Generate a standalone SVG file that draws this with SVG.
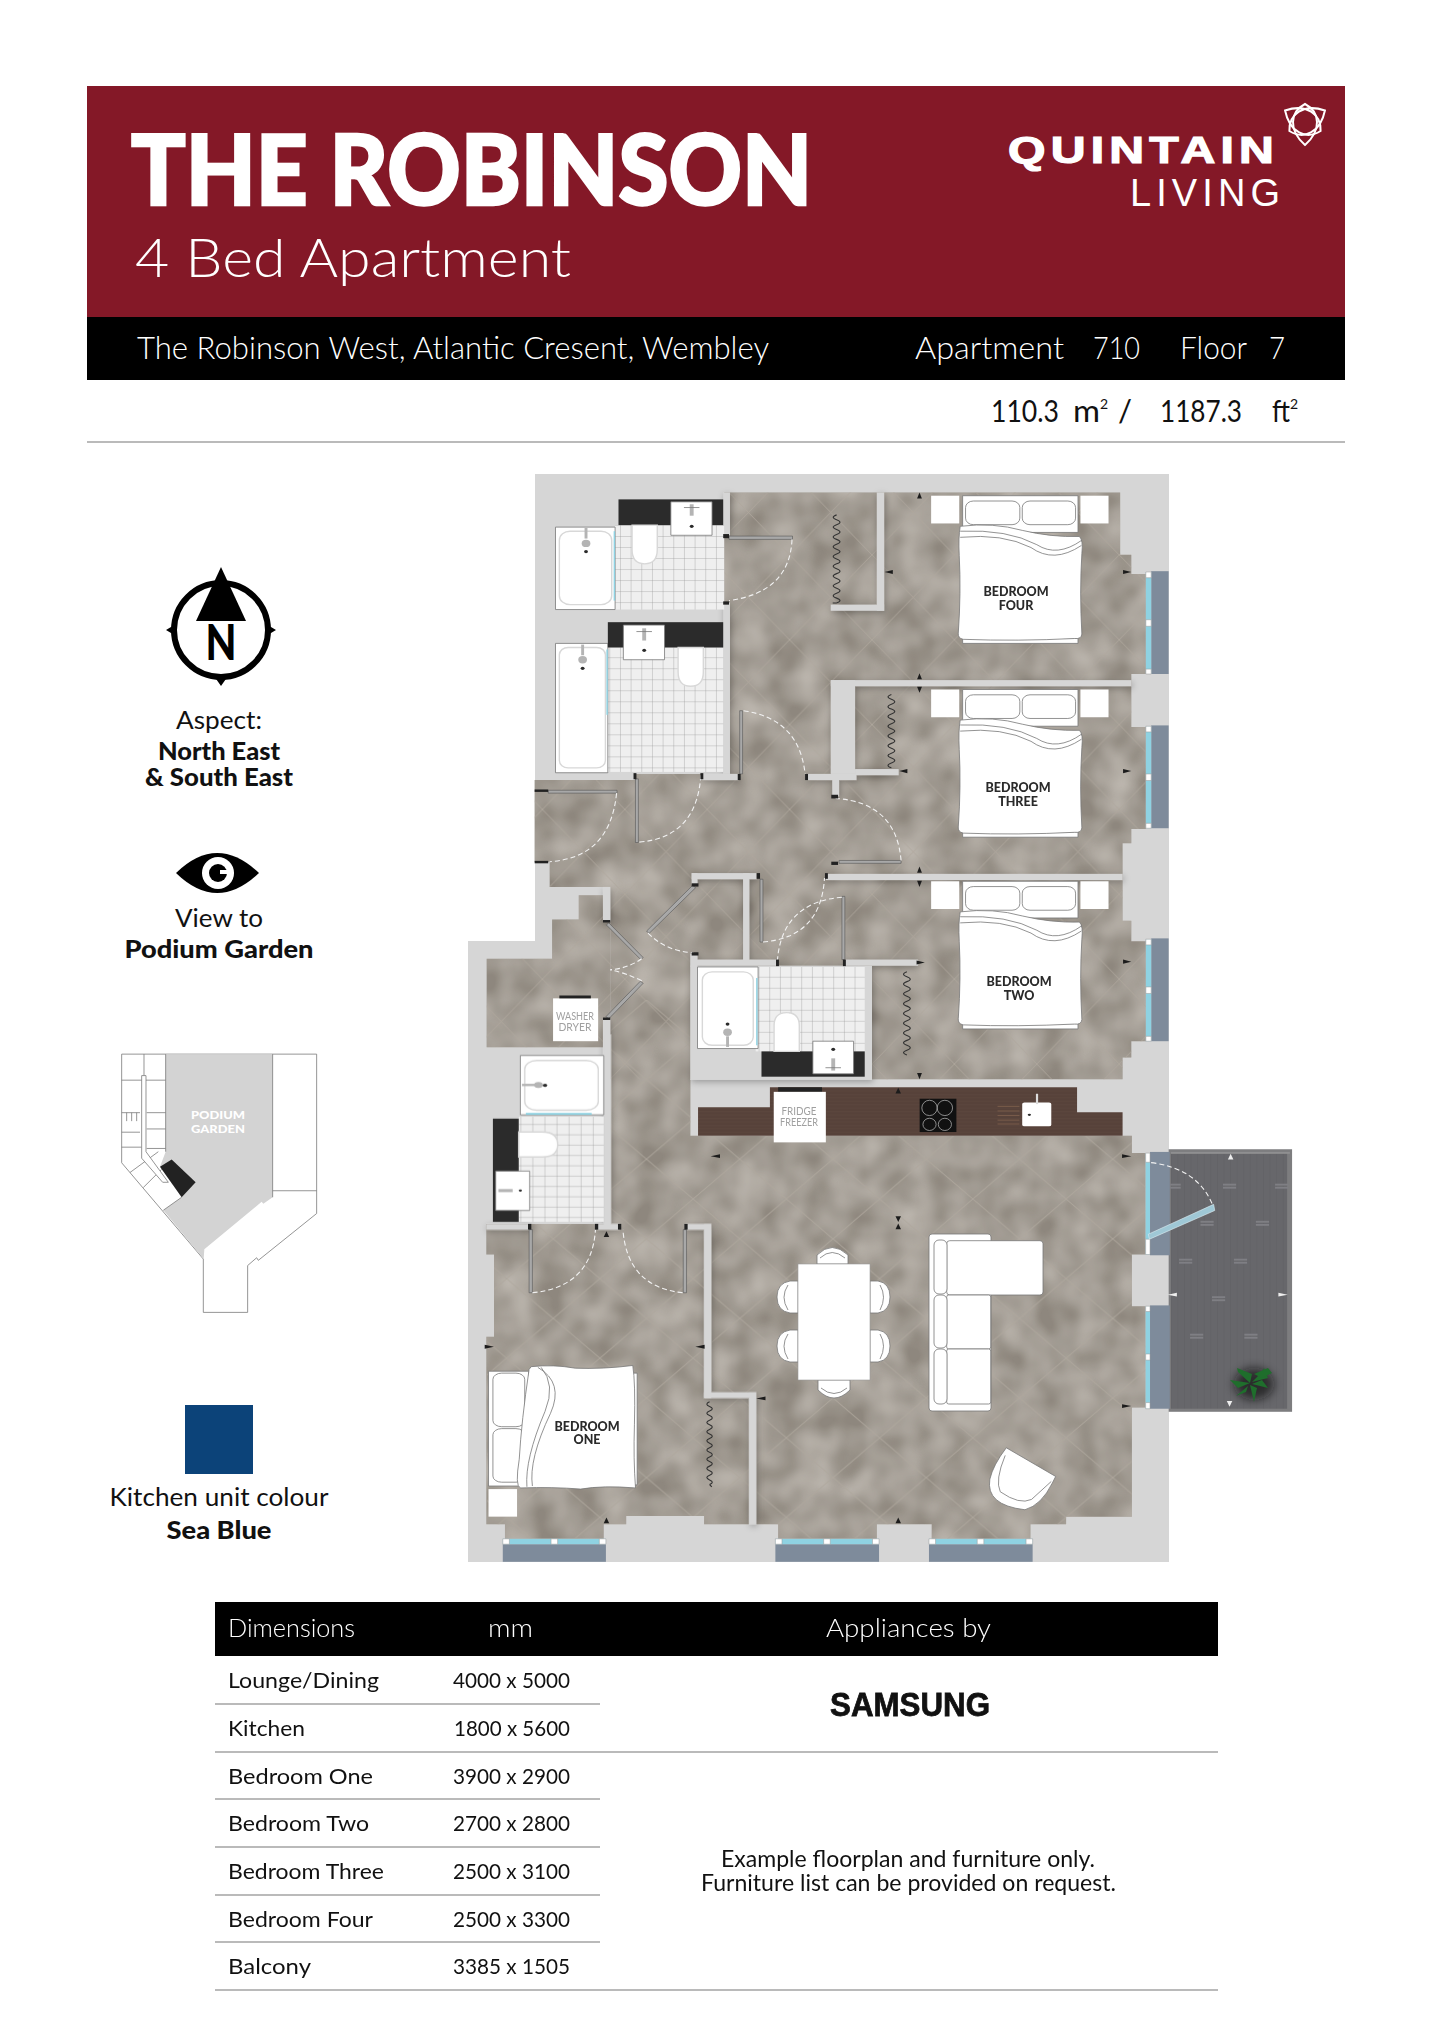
<svg xmlns="http://www.w3.org/2000/svg" xmlns:xlink="http://www.w3.org/1999/xlink" width="1432" height="2025" viewBox="0 0 1432 2025">
<style>
text{font-family:Lato,"Liberation Sans",sans-serif;fill:#111;font-weight:300}
.w{fill:#fff}.b{font-weight:900}
.r{font-size:22px}
.r text,.n{font-weight:400}
.c{text-anchor:middle}
.wall{fill:#d6d6d6}
.tile{fill:url(#grid)}
.wh{fill:#fff;stroke:#777;stroke-width:.8;vector-effect:non-scaling-stroke}
.wl{fill:#fff;stroke:#d8d8d8;stroke-width:1.4;vector-effect:non-scaling-stroke}
.ln{fill:none;stroke:#777;stroke-width:.8;vector-effect:non-scaling-stroke}
.blk{fill:#2b2b2b}
.chr{fill:#b4b4b4}
.stop{fill:#222}
.leaf{fill:#a8a8a8;stroke:#555;stroke-width:.6;vector-effect:non-scaling-stroke}
.arc{fill:none;stroke:#f2f2f2;stroke-width:1.1;stroke-dasharray:5 3;vector-effect:non-scaling-stroke}
.wave{fill:none;stroke:#333;stroke-width:1.1;vector-effect:non-scaling-stroke}
.fr{fill:#7e8b9b}
.gl{fill:#8fd2e2}
.mul{fill:#fff;stroke:#999;stroke-width:.5;vector-effect:non-scaling-stroke}
.lab{font-weight:900;font-size:12.5px;fill:#2a2a2a;text-anchor:middle}
.app{font-size:11.5px;fill:#a0a0a0;text-anchor:middle;font-weight:400}
.hl{stroke:#a3a3a3;stroke-width:1.5}
.kp{fill:#fff;stroke:#7a7a7a;stroke-width:.8;vector-effect:non-scaling-stroke}
.kl{fill:none;stroke:#7a7a7a;stroke-width:.8;vector-effect:non-scaling-stroke}
.tk{fill:#1c1c1c}
.wt{fill:#eee}
.mk{fill:#7f7f84}
</style>
<defs>
<pattern id="dia" patternUnits="userSpaceOnUse" width="170" height="208">
<path d="M0 0L170 208M170 0L0 208" stroke="#aea79d" stroke-width="2" fill="none"/>
</pattern>
<pattern id="grid" patternUnits="userSpaceOnUse" width="22" height="27">
<rect width="22" height="27" fill="#efefef"/>
<path d="M0 0H22M0 0V27" stroke="#989898" stroke-width="1.6" fill="none"/>
</pattern>
<pattern id="deck" patternUnits="userSpaceOnUse" width="12" height="100">
<rect width="12" height="100" fill="#67676b"/>
<path d="M0 0V100" stroke="#5c5c60" stroke-width="1.5"/>
</pattern>
<pattern id="wood" patternUnits="userSpaceOnUse" width="100" height="9">
<rect width="100" height="9" fill="#57423a"/>
<path d="M0 4H100" stroke="#614b40" stroke-width="1"/>
</pattern>
<filter id="mott" x="0" y="0" width="1" height="1">
<feTurbulence type="fractalNoise" baseFrequency=".03" numOctaves="2" seed="4"/>
<feColorMatrix values="0 0 0 0 .66 0 0 0 0 .62 0 0 0 0 .57 .9 0 0 0 -.2"/>
<feComposite in2="SourceAlpha" operator="in" result="n"/>
<feMerge><feMergeNode in="SourceGraphic"/><feMergeNode in="n"/></feMerge>
</filter>
<filter id="sh" x="-5%" y="-5%" width="110%" height="110%"><feDropShadow dx="1" dy="2" stdDeviation="3" flood-color="#000" flood-opacity=".28"/></filter>
<filter id="bl" x="-40%" y="-40%" width="180%" height="180%"><feGaussianBlur stdDeviation="5"/></filter>
<g id="bed">
<rect x="972" y="63" width="58" height="68" fill="#fff"/>
<rect x="1280" y="63" width="58" height="68" fill="#fff"/>
<rect class="wh" x="1037" y="63" width="238" height="90"/>
<rect class="wh" x="1043" y="76" width="112" height="58" rx="16"/>
<rect class="wh" x="1160" y="76" width="110" height="58" rx="16"/>
<rect class="wh" x="1037" y="412" width="238" height="13"/>
<path class="wh" d="M1032 138Q1100 128 1160 148Q1220 165 1278 163Q1286 172 1283 205Q1278 300 1283 402Q1282 415 1268 413Q1150 420 1038 415Q1027 412 1028 400Q1034 300 1030 210Q1028 165 1032 138Z"/>
<path class="ln" d="M1032 165Q1120 155 1178 190Q1225 230 1282 185M1032 150Q1130 145 1190 183Q1232 215 1283 172"/>
</g>
<path id="tu" d="M-5 7L0-8L5 7Z"/>
<path id="tr" d="M-10 5L7 0L-10-5Z"/>
<path id="tl" d="M10 5L-7 0L10-5Z"/>
<path id="td" d="M-5-7L0 8L5-7Z"/>
<g id="mk2"><rect x="-12" y="-8" width="24" height="5"/><rect x="-12" y="0" width="24" height="5"/></g>
<path id="petal" d="M1305 145C1288 130 1290 112 1305 104C1320 112 1322 130 1305 145Z"/>
</defs>
<rect width="1432" height="2025" fill="#fff"/>

<g id="header">
<rect x="87" y="86" width="1258" height="231" fill="#841827"/>
<rect x="87" y="317" width="1258" height="63" fill="#000"/>
<text class="w b" x="131" y="205" font-size="98" textLength="681" lengthAdjust="spacingAndGlyphs" stroke="#fff" stroke-width="2.5">THE ROBINSON</text>
<text class="w" x="135" y="276.5" font-size="54" textLength="436" lengthAdjust="spacingAndGlyphs">4 Bed Apartment</text>
<text class="w" x="137" y="359" font-size="31" textLength="632" lengthAdjust="spacingAndGlyphs">The Robinson West, Atlantic Cresent, Wembley</text>
<text class="w" x="915" y="359" font-size="31" textLength="149" lengthAdjust="spacingAndGlyphs">Apartment</text>
<text class="w" x="1093" y="359" font-size="31" textLength="47" lengthAdjust="spacingAndGlyphs">710</text>
<text class="w" x="1180" y="359" font-size="31" textLength="67" lengthAdjust="spacingAndGlyphs">Floor</text>
<text class="w" x="1269" y="359" font-size="31" textLength="16" lengthAdjust="spacingAndGlyphs">7</text>
</g>
<g id="logo">
<text class="w" x="1008" y="163" font-size="37" textLength="271" lengthAdjust="spacingAndGlyphs" stroke="#fff" stroke-width="1.2" style="font-family:'Liberation Sans',sans-serif;font-weight:700;letter-spacing:4px">QUINTAIN</text>
<text class="w" x="1130" y="205.5" font-size="38" textLength="150" lengthAdjust="spacing" style="font-family:'Liberation Sans',sans-serif;font-weight:400">LIVING</text>
<g fill="none" stroke="#fff" stroke-width="2"><use xlink:href="#petal"/><use xlink:href="#petal" transform="rotate(120 1305 122)"/><use xlink:href="#petal" transform="rotate(-120 1305 122)"/></g>
</g>
<g id="area">
<text class="n" x="991" y="422" font-size="31" textLength="68" lengthAdjust="spacingAndGlyphs">110.3</text>
<text class="n" x="1073" y="422" font-size="31" textLength="27" lengthAdjust="spacingAndGlyphs">m</text>
<text class="n" x="1100" y="409" font-size="14">2</text>
<text class="n" x="1118" y="422" font-size="31">/</text>
<text class="n" x="1160" y="422" font-size="31" textLength="82" lengthAdjust="spacingAndGlyphs">1187.3</text>
<text class="n" x="1272" y="422" font-size="31" textLength="18" lengthAdjust="spacingAndGlyphs">ft</text>
<text class="n" x="1290" y="409" font-size="14">2</text>
<line x1="87" y1="442" x2="1345" y2="442" class="hl"/>
</g>

<g id="aspect">
<circle cx="221" cy="630" r="47" fill="none" stroke="#000" stroke-width="6"/>
<path d="M221 567L246 621H196Z" fill="#000"/>
<path d="M166 630L176 624V636ZM276 630L266 624V636ZM221 686L214 676H228Z" fill="#000"/>
<text class="b c" x="221" y="660" font-size="50" textLength="31" lengthAdjust="spacingAndGlyphs" style="fill:#000">N</text>
<text class="c n" x="219" y="729" font-size="25" textLength="86" lengthAdjust="spacingAndGlyphs">Aspect:</text>
<text class="b c" x="219" y="760" font-size="25" textLength="122" lengthAdjust="spacingAndGlyphs">North East</text>
<text class="b c" x="219" y="786" font-size="25" textLength="148" lengthAdjust="spacingAndGlyphs">&amp; South East</text>
</g>
<g id="view">
<path d="M176 873Q217 833 259 873Q217 913 176 873Z" fill="#000"/>
<circle cx="218" cy="873" r="16" fill="#fff"/>
<circle cx="218" cy="873" r="9" fill="#000"/>
<rect x="220" y="870" width="7" height="4" fill="#fff"/>
<text class="c n" x="219" y="927" font-size="25" textLength="88" lengthAdjust="spacingAndGlyphs">View to</text>
<text class="b c" x="219" y="958" font-size="25" textLength="189" lengthAdjust="spacingAndGlyphs">Podium Garden</text>
</g>
<g id="keyplan">
<g transform="translate(90 550) scale(.3333 .6505)">
<path class="kp" d="M95 775H680V1020L505 1092L500 1088L473 1100V1172H340V1090L95 942Z"/>
<path d="M227 775H548V995L520 1005L515 1002L343 1075L341 1090L220 1015L275 995L210 948L227 925Z" fill="#d3d3d3"/>
<path d="M210 948L245 937L317 972L275 995Z" fill="#222"/>
<path class="kl" d="M95 815H227M95 865H150M170 865H227M95 895H150M170 890H227M95 918H155M170 920H227M227 775V925M162 775V810M548 775V995M548 985H680M120 957L205 925M160 980L215 952M220 1015L275 995M110 865V878M125 865V878M140 865V878"/>
<path d="M155 808H168V925L235 972L218 972L155 935Z" fill="#fff" stroke="#7a7a7a" stroke-width=".8" vector-effect="non-scaling-stroke"/>
</g>
<text class="w b c" x="218" y="1119" font-size="11.5" textLength="54" lengthAdjust="spacingAndGlyphs">PODIUM</text>
<text class="w b c" x="218" y="1133" font-size="11.5" textLength="54" lengthAdjust="spacingAndGlyphs">GARDEN</text>
</g>
<g id="swatch">
<rect x="185" y="1405" width="68" height="69" fill="#0c4379"/>
<text class="c n" x="219" y="1506" font-size="25" textLength="219" lengthAdjust="spacingAndGlyphs">Kitchen unit colour</text>
<text class="b c" x="219" y="1539" font-size="25" textLength="105" lengthAdjust="spacingAndGlyphs">Sea Blue</text>
</g>

<g id="plan">
<path id="shell" class="wall" d="M535 474H1169V1562H468V941H535Z"/>
<g id="floors" filter="url(#mott)">
<g transform="translate(460 470) scale(.4847 .408)">
<path fill="#8e877e" d="M545 55H1362V208H1385V255H1415V500H1385V630H1415V880H1385V915H1367V1105H1385V1155H1415V1400H1385V1440H1367V1493H310V1022H185V960H154V760H362V745H497V760H545Z"/>
<path fill="#8e877e" d="M55 1198H190V1102H245V1042H295V1102H310V1415H55Z"/>
</g>
<g transform="translate(460 1000) scale(.5485 .3827)">
<path fill="#8e877e" d="M275 0H420V355H1225V400H1250V665H1225V800H1250V1065H1225V1350H1105V1370H1040V1408H860V1370H760V1408H580V1370H540V1040H458V600H445V1040H527V1370H445V1348H303V1370H262V1408H82V1370H48V880H62V665H48V585H275Z"/>
</g>
</g>
<g id="floor-lines">
<g transform="translate(460 470) scale(.4847 .408)">
<path fill="url(#dia)" d="M545 55H1362V208H1385V255H1415V500H1385V630H1415V880H1385V915H1367V1105H1385V1155H1415V1400H1385V1440H1367V1493H310V1022H185V960H154V760H362V745H497V760H545Z"/>
<path fill="url(#dia)" d="M55 1198H190V1102H245V1042H295V1102H310V1415H55Z"/>
</g>
<g transform="translate(460 1000) scale(.5485 .3827)">
<path fill="url(#dia)" d="M275 0H420V355H1225V400H1250V665H1225V800H1250V1065H1225V1350H1105V1370H1040V1408H860V1370H760V1408H580V1370H540V1040H458V600H445V1040H527V1370H445V1348H303V1370H262V1408H82V1370H48V880H62V665H48V585H275Z"/>
</g>
</g>

<g id="walls" filter="url(#sh)">
<g class="wall" transform="translate(460 470) scale(.4847 .408)">
<rect x="860" y="55" width="15" height="290"/>
<rect x="765" y="330" width="110" height="15"/>
<rect x="765" y="515" width="620" height="15"/>
<rect x="765" y="515" width="50" height="230"/>
<rect x="815" y="733" width="90" height="15"/>
<rect x="718" y="745" width="100" height="15"/>
<rect x="768" y="745" width="14" height="55"/>
<rect x="755" y="990" width="612" height="15"/>
<rect x="478" y="988" width="134" height="15"/>
<rect x="478" y="988" width="12" height="28"/>
<rect x="584" y="988" width="13" height="215"/>
<rect x="475" y="1215" width="375" height="280"/>
<rect x="475" y="1185" width="15" height="32"/>
<rect x="795" y="1200" width="150" height="15"/>
<rect x="478" y="1200" width="178" height="15"/>
<rect x="500" y="745" width="75" height="15"/>
<rect x="543" y="55" width="14" height="105"/>
<rect x="543" y="325" width="14" height="420"/>
<rect x="295" y="1022" width="15" height="84"/>
<rect x="295" y="1345" width="15" height="150"/>
</g>
<g class="wall" transform="translate(460 1000) scale(.5485 .3827)">
<rect x="262" y="90" width="13" height="500"/>
<rect x="48" y="585" width="80" height="15"/>
<rect x="250" y="585" width="40" height="15"/>
<rect x="410" y="585" width="48" height="15"/>
<rect x="445" y="585" width="13" height="455"/>
<rect x="445" y="1025" width="95" height="15"/>
<rect x="527" y="1025" width="13" height="345"/>
</g>
</g>

<g id="baths" transform="translate(460 470) scale(.4847 .408)">
<rect class="tile" x="320" y="135" width="225" height="207"/>
<rect class="wh" x="197" y="140" width="123" height="202"/>
<rect class="wl" x="205" y="150" width="108" height="180" rx="22"/>
<rect class="gl" x="317" y="150" width="3" height="170"/>
<rect class="chr" x="257" y="142" width="6" height="26"/><circle class="chr" cx="260" cy="180" r="9"/><circle class="blk" cx="260" cy="200" r="4"/>
<rect class="blk" x="327" y="72" width="216" height="63"/>
<rect class="wh" x="435" y="78" width="85" height="82"/>
<rect class="chr" x="474" y="84" width="8" height="28"/><path class="ln" d="M462 92H494"/><circle class="blk" cx="478" cy="138" r="4"/>
<path class="wl" d="M355 135H407V195Q407 230 381 230Q355 230 355 195Z"/>

<rect class="tile" x="305" y="435" width="238" height="305"/>
<rect class="wh" x="197" y="425" width="108" height="317"/>
<rect class="wl" x="205" y="435" width="95" height="295" rx="18"/>
<rect class="gl" x="302" y="440" width="3" height="160"/>
<rect class="chr" x="250" y="428" width="6" height="26"/><circle class="chr" cx="253" cy="465" r="9"/><circle class="blk" cx="253" cy="486" r="4"/>
<rect class="blk" x="305" y="373" width="238" height="62"/>
<rect class="wh" x="337" y="380" width="85" height="85"/>
<rect class="chr" x="376" y="388" width="8" height="30"/><path class="ln" d="M364 396H396"/><circle class="blk" cx="380" cy="442" r="4"/>
<path class="wl" d="M450 435H502V495Q502 530 476 530Q450 530 450 495Z"/>

<rect class="tile" x="610" y="1218" width="225" height="207"/>
<rect class="wh" x="490" y="1218" width="125" height="200"/>
<rect class="wl" x="500" y="1230" width="105" height="180" rx="20"/>
<rect class="gl" x="611" y="1245" width="3" height="165"/>
<rect class="chr" x="549" y="1388" width="6" height="26"/><circle class="chr" cx="552" cy="1378" r="9"/><circle class="blk" cx="552" cy="1358" r="4"/>
<rect class="blk" x="622" y="1425" width="213" height="62"/>
<rect class="wh" x="728" y="1400" width="84" height="80"/>
<rect class="chr" x="766" y="1442" width="8" height="30"/><path class="ln" d="M754 1465H786"/><circle class="blk" cx="770" cy="1420" r="4"/>
<path class="wl" d="M648 1425H700V1362Q700 1330 674 1330Q648 1330 648 1362Z"/>
<rect x="192" y="1295" width="93" height="105" fill="#fff"/>
<rect class="stop" x="205" y="1288" width="65" height="7"/>
</g>
<g id="bath4" transform="translate(460 1000) scale(.5485 .3827)">
<rect class="tile" x="107" y="305" width="155" height="275"/>
<rect class="wh" x="110" y="145" width="152" height="155"/>
<rect class="wl" x="118" y="158" width="134" height="130" rx="22"/>
<rect class="gl" x="120" y="295" width="120" height="5"/>
<rect class="chr" x="113" y="219" width="24" height="6"/><circle class="chr" cx="143" cy="222" r="8"/><circle class="blk" cx="155" cy="223" r="4"/>
<rect class="blk" x="60" y="310" width="47" height="270"/>
<rect class="wh" x="65" y="447" width="62" height="103"/>
<rect class="chr" x="70" y="494" width="26" height="8"/><circle class="blk" cx="110" cy="498" r="3"/>
<path class="wl" d="M107 345H150Q178 345 178 378Q178 410 150 410H107Z"/>
</g>
<g id="kitchen" transform="translate(460 1000) scale(.5485 .3827)">
<path fill="url(#wood)" d="M565 228H1125V293H1208V355H434V280H565Z"/>
<rect class="stop" x="580" y="228" width="80" height="12"/>
<rect x="572" y="240" width="95" height="132" fill="#fff"/>
<rect x="838" y="258" width="67" height="87" fill="#111"/>
<ellipse class="ln" cx="856" cy="282" rx="14" ry="20" style="stroke:#aaa"/><ellipse class="ln" cx="884" cy="282" rx="14" ry="20" style="stroke:#aaa"/><ellipse class="ln" cx="856" cy="325" rx="12" ry="16" style="stroke:#aaa"/><ellipse class="ln" cx="884" cy="325" rx="12" ry="16" style="stroke:#aaa"/>
<path d="M980 278H1020M980 290H1020M980 302H1020M980 314H1020M980 324H1020" stroke="#a07a5c" stroke-width="1" fill="none"/>
<rect x="1025" y="268" width="53" height="62" rx="4" fill="#fff"/>
<path d="M1052 245V272" stroke="#ddd" stroke-width="4"/>
<circle class="blk" cx="1038" cy="300" r="3"/>
</g>
<g id="windows">
<g transform="translate(460 470) scale(.4847 .408)">
<rect class="fr" x="1426" y="248" width="36" height="252"/><rect class="gl" x="1415" y="250" width="11" height="250"/>
<rect class="mul" x="1415" y="250" width="11" height="14"/><rect class="mul" x="1415" y="367" width="11" height="16"/><rect class="mul" x="1415" y="488" width="11" height="12"/>
<rect class="fr" x="1426" y="626" width="36" height="252"/><rect class="gl" x="1415" y="628" width="11" height="250"/>
<rect class="mul" x="1415" y="628" width="11" height="14"/><rect class="mul" x="1415" y="745" width="11" height="16"/><rect class="mul" x="1415" y="866" width="11" height="12"/>
<rect class="fr" x="1426" y="1148" width="36" height="252"/><rect class="gl" x="1415" y="1150" width="11" height="250"/>
<rect class="mul" x="1415" y="1150" width="11" height="14"/><rect class="mul" x="1415" y="1267" width="11" height="16"/><rect class="mul" x="1415" y="1388" width="11" height="12"/>
</g>
<g transform="translate(460 1000) scale(.5485 .3827)">
<rect class="fr" x="78" y="1422" width="188" height="46"/><rect class="gl" x="78" y="1408" width="188" height="14"/><rect class="mul" x="78" y="1408" width="12" height="14"/><rect class="mul" x="166" y="1408" width="12" height="14"/><rect class="mul" x="254" y="1408" width="12" height="14"/>
<rect class="fr" x="575" y="1422" width="189" height="46"/><rect class="gl" x="575" y="1408" width="189" height="14"/><rect class="mul" x="575" y="1408" width="12" height="14"/><rect class="mul" x="663" y="1408" width="12" height="14"/><rect class="mul" x="752" y="1408" width="12" height="14"/>
<rect class="fr" x="855" y="1422" width="189" height="46"/><rect class="gl" x="855" y="1408" width="189" height="14"/><rect class="mul" x="855" y="1408" width="12" height="14"/><rect class="mul" x="943" y="1408" width="12" height="14"/><rect class="mul" x="1032" y="1408" width="12" height="14"/>
</g>
</g>
<g id="balcony" transform="translate(460 1000) scale(.5485 .3827)">
<rect x="1292" y="390" width="225" height="686" fill="#7d7d7f"/>
<rect x="1296" y="400" width="212" height="668" fill="url(#deck)"/>
<rect x="1296" y="397" width="217" height="5" fill="#8f8f91"/>
<g class="mk">
<use xlink:href="#mk2" x="1302" y="488"/><use xlink:href="#mk2" x="1403" y="488"/><use xlink:href="#mk2" x="1498" y="488"/><use xlink:href="#mk2" x="1362" y="585"/><use xlink:href="#mk2" x="1463" y="585"/><use xlink:href="#mk2" x="1323" y="684"/><use xlink:href="#mk2" x="1423" y="684"/><use xlink:href="#mk2" x="1383" y="782"/><use xlink:href="#mk2" x="1343" y="880"/><use xlink:href="#mk2" x="1442" y="880"/>
</g>
<rect class="fr" x="1258" y="397" width="36" height="270"/><rect class="gl" x="1250" y="400" width="8" height="265"/><rect class="mul" x="1250" y="400" width="8" height="24"/><rect class="mul" x="1250" y="625" width="8" height="40"/>
<rect class="fr" x="1258" y="798" width="36" height="270"/><rect class="gl" x="1250" y="800" width="8" height="268"/><rect class="mul" x="1250" y="800" width="8" height="14"/><rect class="mul" x="1250" y="925" width="8" height="16"/><rect class="mul" x="1250" y="1052" width="8" height="16"/>
<path d="M1255 612L1374 534L1376 550L1257 625Z" fill="#9fc8d6" stroke="#dfeef3" stroke-width=".6" vector-effect="non-scaling-stroke"/>
<path class="arc" d="M1260 425Q1345 440 1372 535"/>
<g class="wt"><use xlink:href="#tu" x="1405" y="410"/><use xlink:href="#tl" x="1297" y="770"/><use xlink:href="#tr" x="1502" y="770"/><use xlink:href="#td" x="1403" y="1055"/></g>
</g>
<g id="plant">
<ellipse cx="1254" cy="1384" rx="20" ry="16" fill="#111" opacity=".65" filter="url(#bl)"/>
<g fill="#1f6e2c"><path d="M1250 1383L1230 1380L1238 1388Z"/><path d="M1250 1383L1238 1372L1237 1368L1252 1374Z"/><path d="M1248 1386L1236 1396L1246 1392Z"/><path d="M1250 1385L1254 1402L1257 1388Z"/><path d="M1252 1382L1262 1372L1264 1368L1268 1378Z"/><path d="M1252 1384L1268 1388L1262 1380Z"/><path d="M1254 1374L1268 1368L1272 1373L1262 1378Z"/></g>
</g>
<g id="bedrooms">
<g transform="translate(460 470) scale(.4847 .408)">
<use xlink:href="#bed"/>
<use xlink:href="#bed" y="475"/>
<use xlink:href="#bed" y="945"/>
<path class="wave" d="M777 110q-14 6 0 12q14 6 0 12q-14 6 0 12q14 6 0 12q-14 6 0 12q14 6 0 12q-14 6 0 12q14 6 0 12q-14 6 0 12q14 6 0 12q-14 6 0 12q14 6 0 12q-14 6 0 12q14 6 0 12q-14 6 0 12q14 6 0 12q-14 6 0 12q14 6 0 12M777 326h-8"/>
<path class="wave" d="M890 550q-14 6 0 12q14 6 0 12q-14 6 0 12q14 6 0 12q-14 6 0 12q14 6 0 12q-14 6 0 12q14 6 0 12q-14 6 0 12q14 6 0 12q-14 6 0 12q14 6 0 12q-14 6 0 12q14 6 0 12q-14 6 0 12"/>
<path class="wave" d="M922 1230q-14 6 0 12q14 6 0 12q-14 6 0 12q14 6 0 12q-14 6 0 12q14 6 0 12q-14 6 0 12q14 6 0 12q-14 6 0 12q14 6 0 12q-14 6 0 12q14 6 0 12q-14 6 0 12q14 6 0 12q-14 6 0 12q14 6 0 12q-14 6 0 12"/>
</g>
<g id="bed1" transform="translate(460 1000) scale(.5485 .3827)">
<rect class="wh" x="52" y="970" width="73" height="300"/>
<rect class="wh" x="60" y="975" width="58" height="140" rx="16"/>
<rect class="wh" x="60" y="1120" width="58" height="140" rx="16"/>
<rect class="wh" x="312" y="975" width="11" height="292"/>
<path class="wh" d="M130 958Q170 952 210 962Q260 965 315 955Q320 1000 318 1110Q316 1200 320 1275Q260 1268 220 1278Q170 1272 110 1275Q100 1270 108 1200Q112 1100 126 965Z"/>
<path class="ln" d="M142 960Q190 1000 165 1080Q125 1200 132 1270M148 960Q175 1005 155 1075Q118 1200 122 1272"/>
<rect x="52" y="1278" width="52" height="72" fill="#fff"/>
<path class="wave" d="M455 1050q-10 6 0 12q10 6 0 12q-10 6 0 12q10 6 0 12q-10 6 0 12q10 6 0 12q-10 6 0 12q10 6 0 12q-10 6 0 12q10 6 0 12q-10 6 0 12q10 6 0 12q-10 6 0 12q10 6 0 12q-10 6 0 12q10 6 0 12q-10 6 0 12q10 6 0 12M455 1266l4 6"/>
</g>
</g>
<g id="dining">
<path class="wh" d="M817 1264V1255Q832 1240 848 1255V1264Z"/><path class="ln" d="M820 1258Q832 1247 845 1258"/>
<path class="wh" d="M818 1380V1390Q834 1406 850 1390V1380Z"/><path class="ln" d="M821 1388Q834 1399 847 1388"/>
<path class="wh" d="M798 1281H790Q777 1283 777 1297Q777 1311 790 1313H798Z"/><path class="ln" d="M788 1285Q780 1297 788 1310"/>
<path class="wh" d="M798 1330H790Q777 1332 777 1346Q777 1360 790 1362H798Z"/><path class="ln" d="M788 1334Q780 1346 788 1359"/>
<path class="wh" d="M870 1281H878Q890 1283 890 1297Q890 1311 878 1313H870Z"/><path class="ln" d="M880 1285Q887 1297 880 1310"/>
<path class="wh" d="M870 1330H878Q890 1332 890 1346Q890 1360 878 1362H870Z"/><path class="ln" d="M880 1334Q887 1346 880 1359"/>
<rect x="798" y="1264" width="72" height="116" fill="#fff" stroke="#999" stroke-width=".6"/>
</g>
<g id="sofa">
<rect class="wh" x="929" y="1234" width="62" height="177" rx="3"/>
<rect class="wh" x="946.7" y="1240.7" width="96.3" height="54.3" rx="3"/>
<rect class="wh" x="946.7" y="1295" width="44" height="54" rx="2"/>
<rect class="wh" x="946.7" y="1349" width="44" height="55" rx="2"/>
<rect class="wh" x="934" y="1240" width="13" height="54" rx="5"/>
<rect class="wh" x="934" y="1295" width="13" height="53" rx="5"/>
<rect class="wh" x="934" y="1349" width="13" height="55" rx="5"/>
</g>
<g id="armchair" transform="translate(460 1000) scale(.5485 .3827)">
<path class="wh" d="M996 1170L1086 1245L1080 1262Q1060 1320 1030 1332Q958 1320 966 1252Q972 1215 996 1170Z"/>
<path class="ln" d="M994 1190Q975 1255 985 1285Q1020 1320 1042 1305L1078 1258"/>
</g>
<g id="doors">
<g transform="translate(460 470) scale(.4847 .408)">
<rect class="leaf" x="555" y="162" width="131" height="8"/><path class="arc" d="M685 170Q680 300 555 320"/>
<rect class="leaf" x="577" y="590" width="6" height="155"/><path class="arc" d="M585 590Q700 610 712 745"/>
<rect class="leaf" x="362" y="757" width="6" height="156"/><path class="arc" d="M370 912Q490 900 497 745"/>
<rect class="leaf" x="182" y="785" width="142" height="7"/><path class="arc" d="M323 792Q310 950 185 960"/>
<rect class="leaf" x="782" y="957" width="128" height="7"/><path class="arc" d="M910 957Q900 815 775 805"/>
<rect class="leaf" x="619" y="1003" width="6" height="154"/><path class="arc" d="M625 1157Q745 1145 752 1000"/>
<rect class="leaf" x="788" y="1045" width="6" height="155"/><path class="arc" d="M788 1047Q665 1060 655 1200"/>
<path class="leaf" d="M480 1018L486 1024L390 1136L385 1130Z"/><path class="arc" d="M388 1135Q425 1180 482 1183"/>
<path class="leaf" d="M307 1110L302 1115L373 1200L378 1195Z"/><path class="arc" d="M375 1198Q345 1222 310 1225"/>
<path class="leaf" d="M372 1253L378 1258L307 1345L301 1340Z"/><path class="arc" d="M375 1252Q340 1232 310 1225"/>
<g class="stop">
<rect x="543" y="157" width="12" height="10"/><rect x="543" y="322" width="12" height="8"/><rect x="358" y="743" width="6" height="15"/><rect x="496" y="743" width="6" height="15"/><rect x="573" y="745" width="6" height="15"/><rect x="712" y="745" width="6" height="15"/><rect x="154" y="783" width="28" height="6"/><rect x="154" y="958" width="28" height="6"/><rect x="766" y="796" width="14" height="9"/><rect x="766" y="960" width="14" height="8"/><rect x="753" y="988" width="6" height="14"/><rect x="612" y="988" width="7" height="14"/><rect x="652" y="1200" width="6" height="16"/><rect x="790" y="1200" width="6" height="16"/><rect x="478" y="1013" width="14" height="8"/><rect x="478" y="1182" width="14" height="8"/><rect x="295" y="1103" width="15" height="6"/><rect x="295" y="1342" width="15" height="6"/>
</g>
</g>
<g transform="translate(460 1000) scale(.5485 .3827)">
<rect class="leaf" x="126" y="600" width="6" height="165"/><path class="arc" d="M132 765Q240 750 247 600"/>
<rect class="leaf" x="407" y="600" width="6" height="165"/><path class="arc" d="M406 765Q305 750 297 600"/>
<g class="stop"><rect x="124" y="585" width="6" height="15"/><rect x="246" y="585" width="6" height="15"/><rect x="288" y="585" width="6" height="15"/><rect x="409" y="585" width="6" height="15"/></g>
</g>
</g>
<g id="ticks" class="tk">
<g transform="translate(460 470) scale(.4847 .408)">
<use xlink:href="#tu" x="948" y="63"/><use xlink:href="#tl" x="883" y="250"/><use xlink:href="#tr" x="1378" y="250"/><use xlink:href="#tu" x="948" y="506"/><use xlink:href="#td" x="948" y="538"/><use xlink:href="#tl" x="913" y="738"/><use xlink:href="#tr" x="1378" y="738"/><use xlink:href="#tu" x="948" y="980"/><use xlink:href="#td" x="948" y="1014"/><use xlink:href="#tr" x="952" y="1207"/><use xlink:href="#tr" x="1378" y="1205"/><use xlink:href="#td" x="948" y="1485"/>
</g>
<g transform="translate(460 1000) scale(.5485 .3827)">
<use xlink:href="#tu" x="799" y="237"/><use xlink:href="#tl" x="464" y="408"/><use xlink:href="#tr" x="1217" y="408"/><use xlink:href="#td" x="799" y="572"/><use xlink:href="#tu" x="799" y="592"/><use xlink:href="#tu" x="267" y="612"/><use xlink:href="#tr" x="55" y="906"/><use xlink:href="#tl" x="436" y="906"/><use xlink:href="#tl" x="547" y="1041"/><use xlink:href="#tr" x="1217" y="1061"/><use xlink:href="#tu" x="267" y="1360"/><use xlink:href="#tu" x="799" y="1360"/>
</g>
</g>
<g id="plan-labels">
<text class="lab" x="1016" y="596">BEDROOM</text><text class="lab" x="1016" y="610">FOUR</text>
<text class="lab" x="1018" y="792">BEDROOM</text><text class="lab" x="1018" y="806">THREE</text>
<text class="lab" x="1019" y="986">BEDROOM</text><text class="lab" x="1019" y="1000">TWO</text>
<text class="lab" x="587" y="1431">BEDROOM</text><text class="lab" x="587" y="1444">ONE</text>
<text class="app" x="575" y="1020" textLength="38" lengthAdjust="spacingAndGlyphs">WASHER</text><text class="app" x="575" y="1031" textLength="33" lengthAdjust="spacingAndGlyphs">DRYER</text>
<text class="app" x="799" y="1115" textLength="35" lengthAdjust="spacingAndGlyphs">FRIDGE</text><text class="app" x="799" y="1126" textLength="38" lengthAdjust="spacingAndGlyphs">FREEZER</text>
</g>
</g>

<g id="table">
<rect x="215" y="1602" width="1003" height="54" fill="#000"/>
<text class="w" x="228" y="1637" font-size="25" textLength="127" lengthAdjust="spacingAndGlyphs">Dimensions</text>
<text class="w" x="488" y="1637" font-size="25" textLength="45" lengthAdjust="spacingAndGlyphs">mm</text>
<text class="w" x="826" y="1637" font-size="25" textLength="165" lengthAdjust="spacingAndGlyphs">Appliances by</text>
<g class="hl">
<line x1="215" y1="1704" x2="600" y2="1704"/><line x1="215" y1="1752" x2="1218" y2="1752"/><line x1="215" y1="1799" x2="600" y2="1799"/><line x1="215" y1="1847" x2="600" y2="1847"/><line x1="215" y1="1895" x2="600" y2="1895"/><line x1="215" y1="1942" x2="600" y2="1942"/><line x1="215" y1="1990" x2="1218" y2="1990"/>
</g>
<g class="r">
<text x="228" y="1688" textLength="151" lengthAdjust="spacingAndGlyphs">Lounge/Dining</text><text x="453" y="1688" textLength="117" lengthAdjust="spacingAndGlyphs">4000 x 5000</text>
<text x="228" y="1736" textLength="77" lengthAdjust="spacingAndGlyphs">Kitchen</text><text x="454" y="1736" textLength="116" lengthAdjust="spacingAndGlyphs">1800 x 5600</text>
<text x="228" y="1784" textLength="145" lengthAdjust="spacingAndGlyphs">Bedroom One</text><text x="453" y="1784" textLength="117" lengthAdjust="spacingAndGlyphs">3900 x 2900</text>
<text x="228" y="1831" textLength="141" lengthAdjust="spacingAndGlyphs">Bedroom Two</text><text x="453" y="1831" textLength="117" lengthAdjust="spacingAndGlyphs">2700 x 2800</text>
<text x="228" y="1879" textLength="156" lengthAdjust="spacingAndGlyphs">Bedroom Three</text><text x="453" y="1879" textLength="117" lengthAdjust="spacingAndGlyphs">2500 x 3100</text>
<text x="228" y="1927" textLength="145" lengthAdjust="spacingAndGlyphs">Bedroom Four</text><text x="453" y="1927" textLength="117" lengthAdjust="spacingAndGlyphs">2500 x 3300</text>
<text x="228" y="1974" textLength="83" lengthAdjust="spacingAndGlyphs">Balcony</text><text x="453" y="1974" textLength="117" lengthAdjust="spacingAndGlyphs">3385 x 1505</text>
</g>
<text x="830" y="1716" font-size="34" stroke="#111" stroke-width=".8" style="font-family:'Liberation Sans',sans-serif;font-weight:700" textLength="160" lengthAdjust="spacingAndGlyphs">SAMSUNG</text>
<text class="n" x="721" y="1867" font-size="23" textLength="374" lengthAdjust="spacingAndGlyphs">Example floorplan and furniture only.</text>
<text class="n" x="701" y="1891" font-size="23" textLength="415" lengthAdjust="spacingAndGlyphs">Furniture list can be provided on request.</text>
</g>
</svg>
